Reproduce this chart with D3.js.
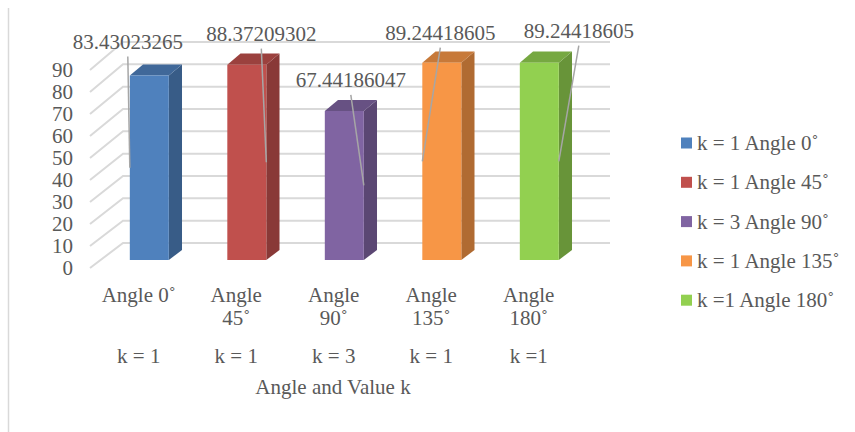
<!DOCTYPE html>
<html>
<head>
<meta charset="utf-8">
<script src="https://cdn.jsdelivr.net/npm/d3@7"></script>
<style>
  html, body { margin: 0; padding: 0; background: #fff; }
  svg { display: block; }
  text { font-family: "Liberation Serif", "Times New Roman", serif; fill: #595959; }
</style>
</head>
<body>
<svg id="chart" width="855" height="432"></svg>
<script>
// Chart data
const categories = ["Angle 0˚", "Angle 45˚", "Angle 90˚", "Angle 135˚", "Angle 180˚"];
const kLabels = ["k = 1", "k = 1", "k = 3", "k = 1", "k =1"];
const seriesNames = ["k = 1 Angle 0˚", "k = 1 Angle 45˚", "k = 3 Angle 90˚", "k = 1 Angle 135˚", "k =1 Angle 180˚"];
const values = [83.43023265, 88.37209302, 67.44186047, 89.24418605, 89.24418605];
const yTicks = [0, 10, 20, 30, 40, 50, 60, 70, 80, 90];
const axisTitle = "Angle and Value k";

// Styling
const colors = ["#4F81BD", "#C0504D", "#8064A2", "#F79646", "#92D050"];
// Data-label placement: offset of label centre from the bar's front-left corner,
// height above the bar top, and which front edge the leader line ends on (0 left, 1 right)
const labelPlacement = [
  { dx: -2, rise: 27, edge: 0 },
  { dx: 34, rise: 24, edge: 1 },
  { dx: 26, rise: 24, edge: 1 },
  { dx: 18, rise: 23, edge: 0 },
  { dx: 59, rise: 25, edge: 1 }
];

const svg = d3.select("#chart");
const FONT = 21;
const gridColor = "#d9d9d9";

// Oblique 3D frame: front plane and back wall
const depthDX = 33;                 // horizontal shift from front to back wall
const xFront = d3.scaleBand().domain(categories).range([90, 577.5]);
const yFront = d3.scaleLinear().domain([0, 90]).range([268, 70]);
const yBack = d3.scaleLinear().domain([0, 90]).range([243, 42]);
const backRight = 610;

function proj(x, v, d) {
  return [x + depthDX * d, yFront(v) + (yBack(v) - yFront(v)) * d];
}

// chart area border (left edge)
svg.append("line")
  .attr("x1", 8.5).attr("x2", 8.5).attr("y1", 8).attr("y2", 432)
  .attr("stroke", gridColor).attr("stroke-width", 1.5);

// Gridlines: side wall diagonal + back wall horizontal
const grid = svg.append("g");
yTicks.forEach(v => {
  const a = proj(90, v, 0), b = proj(90, v, 1);
  grid.append("path")
    .attr("d", `M${a[0]},${a[1]}L${b[0]},${b[1]}L${backRight},${b[1]}`)
    .attr("fill", "none").attr("stroke", gridColor).attr("stroke-width", 2);
});

// Y axis labels
const yAxis = d3.axisLeft(yFront).tickValues(yTicks).tickSize(0).tickPadding(3).tickFormat(d3.format("d"));
const gy = svg.append("g").attr("transform", "translate(76,0)").call(yAxis);
gy.select(".domain").remove();
gy.selectAll("text").attr("font-size", FONT).attr("fill", "#595959")
  .style("font-family", '"Liberation Serif", "Times New Roman", serif');

// Bars as 3D columns
const bw = xFront.bandwidth();
const barW = bw * 0.4;
const d0 = 0.32, d1 = 0.72;
const bars = svg.append("g");
const barInfo = [];
categories.forEach((c, i) => {
  const v = values[i];
  const xl = xFront(c) + (bw - barW) / 2;
  const xr = xl + barW;
  const fBL = proj(xl, 0, d0), fBR = proj(xr, 0, d0);
  const fTL = proj(xl, v, d0), fTR = proj(xr, v, d0);
  const bBR = proj(xr, 0, d1), bTR = proj(xr, v, d1), bTL = proj(xl, v, d1);
  const base = d3.color(colors[i]);
  const poly = pts => "M" + pts.map(p => p.join(",")).join("L") + "Z";
  // side face
  bars.append("path").attr("d", poly([fBR, bBR, bTR, fTR])).attr("fill", base.darker(0.95));
  // top face
  bars.append("path").attr("d", poly([fTL, fTR, bTR, bTL])).attr("fill", base.darker(0.6));
  // front face
  bars.append("path").attr("d", poly([fBL, fBR, fTR, fTL])).attr("fill", base);
  barInfo.push({ left: fTL[0], right: fTR[0], top: fTL[1], mid: proj(xl, v / 2, d0)[1] });
});

// Data labels with leader lines
const labels = svg.append("g");
values.forEach((v, i) => {
  const b = barInfo[i], p = labelPlacement[i];
  const cx = b.left + p.dx;
  const baseline = b.top - p.rise;
  const ex = p.edge ? b.right : b.left;
  labels.append("line")
    .attr("x1", cx).attr("y1", baseline + 8)
    .attr("x2", ex).attr("y2", b.mid)
    .attr("stroke", "#a6a6a6").attr("stroke-width", 1.5);
  labels.append("text")
    .attr("x", cx).attr("y", baseline)
    .attr("text-anchor", "middle").attr("font-size", FONT)
    .text(String(v));
});

// Category labels, wrapped to the band width
const xl = svg.append("g");
categories.forEach((c, i) => {
  const cx = xFront(c) + bw / 2;
  const t = xl.append("text").attr("x", cx).attr("y", 302)
    .attr("text-anchor", "middle").attr("font-size", FONT).text(c);
  if (t.node().getComputedTextLength() > 80) {
    const words = c.split(" ");
    t.text(null);
    words.forEach((w, j) => {
      t.append("tspan").attr("x", cx).attr("y", 302 + j * 23).text(w);
    });
  }
  xl.append("text").attr("x", cx).attr("y", 363)
    .attr("text-anchor", "middle").attr("font-size", FONT).text(kLabels[i]);
});

// Axis title
svg.append("text").attr("x", 333).attr("y", 394)
  .attr("text-anchor", "middle").attr("font-size", FONT).text(axisTitle);

// Legend
const lg = svg.append("g");
seriesNames.forEach((s, i) => {
  const cy = 143 + i * 39.3;
  lg.append("rect").attr("x", 681).attr("y", cy - 5.5).attr("width", 11).attr("height", 11)
    .attr("fill", colors[i]);
  lg.append("text").attr("x", 697).attr("y", cy).attr("dy", "0.34em")
    .attr("font-size", FONT).text(s);
});
</script>
</body>
</html>
